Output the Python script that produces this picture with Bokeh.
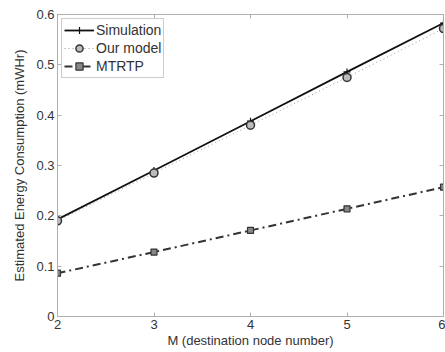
from bokeh.plotting import figure
from bokeh.models import LinearAxis, FixedTicker, Range1d, Legend, LegendItem, CustomLabelingPolicy
from bokeh.embed import file_html
from bokeh.resources import INLINE

M = [2, 3, 4, 5, 6]
simulation = [0.193, 0.290, 0.388, 0.486, 0.583]
our_model = [0.190, 0.285, 0.380, 0.475, 0.572]
mtrtp = [0.086, 0.128, 0.171, 0.214, 0.257]
x_ticks = [2, 3, 4, 5, 6]
y_ticks = [0, 0.1, 0.2, 0.3, 0.4, 0.5, 0.6]
y_labels = ["0", "0.1", "0.2", "0.3", "0.4", "0.5", "0.6"]

FONT = "Liberation Sans"

p = figure(width=445, height=352, output_backend="svg", toolbar_location=None,
           x_range=Range1d(2, 6), y_range=Range1d(0, 0.6),
           min_border_left=57, min_border_top=14, min_border_right=2, min_border_bottom=36)
p.background_fill_color = "white"
p.outline_line_color = "#b0b0b0"
p.xgrid.visible = False
p.ygrid.visible = False

def style_axis(ax):
    ax.major_tick_in = 4
    ax.major_tick_out = 0
    ax.minor_tick_in = 0
    ax.minor_tick_out = 0
    ax.axis_line_color = "#b0b0b0"
    ax.major_tick_line_color = "#b0b0b0"
    ax.major_label_text_font = FONT
    ax.major_label_text_font_size = "13px"
    ax.major_label_text_color = "#333333"
    ax.axis_label_text_font = FONT
    ax.axis_label_text_font_size = "13px"
    ax.axis_label_text_font_style = "normal"
    ax.axis_label_text_color = "#333333"

p.xaxis.ticker = FixedTicker(ticks=x_ticks)
p.yaxis.ticker = FixedTicker(ticks=y_ticks)
p.yaxis.major_label_overrides = {t: l for t, l in zip(y_ticks, y_labels)}
p.xaxis.axis_label = "M (destination node number)"
p.yaxis.axis_label = "Estimated Energy Consumption (mWHr)"
p.xaxis.major_label_standoff = 3
p.yaxis.major_label_standoff = 3
p.xaxis.axis_label_standoff = 1
p.yaxis.axis_label_standoff = 6
style_axis(p.xaxis[0])
style_axis(p.yaxis[0])

hide = "for (const i of indices) { indices.unset(i) }\nreturn indices"
top = LinearAxis(ticker=FixedTicker(ticks=x_ticks), major_label_policy=CustomLabelingPolicy(code=hide),
                 major_label_overrides={t: "" for t in x_ticks})
right = LinearAxis(ticker=FixedTicker(ticks=y_ticks), major_label_policy=CustomLabelingPolicy(code=hide),
                   major_label_overrides={t: "" for t in y_ticks})
style_axis(top)
style_axis(right)
top.major_label_standoff = 0
right.major_label_standoff = 0
p.add_layout(top, "above")
p.add_layout(right, "right")

r1 = p.line(M, simulation, line_color="#111111", line_width=1.8)
r1m = p.scatter(M, simulation, marker="cross", size=7, line_color="#111111", line_width=1.2)
r2 = p.line(M, our_model, line_color="#999999", line_width=1, line_dash="1 3")
r2m = p.scatter(M, our_model, marker="circle", size=8, line_color="#333333", fill_color="#bbbbbb", line_width=1.5)
r3 = p.line(M, mtrtp, line_color="#333333", line_width=2, line_dash="8 4 2 4")
r3m = p.scatter(M, mtrtp, marker="square", size=6, line_color="#333333", fill_color="#888888", line_width=1.2)

legend = Legend(items=[
    LegendItem(label="Simulation", renderers=[r1, r1m]),
    LegendItem(label="Our model", renderers=[r2, r2m]),
    LegendItem(label="MTRTP", renderers=[r3, r3m]),
], location="top_left")
legend.label_text_font = FONT
legend.label_text_font_size = "14px"
legend.label_text_color = "#333333"
legend.border_line_color = "#999999"
legend.margin = 4
legend.padding = 2
legend.spacing = 0
legend.label_height = 18
legend.glyph_height = 18
legend.glyph_width = 30
legend.label_standoff = 2
p.add_layout(legend)

open("out.html", "w").write(file_html(p, INLINE))
